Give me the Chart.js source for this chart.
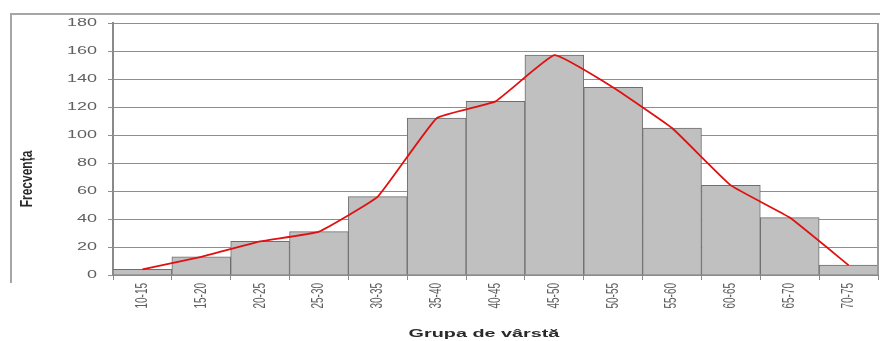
<!DOCTYPE html>
<html>
<head>
<meta charset="utf-8">
<script src="https://cdn.jsdelivr.net/npm/chart.js@4/dist/chart.umd.min.js"></script>
<style>
  html, body { margin: 0; padding: 0; background: #fff; }
  #wrap { position: relative; width: 880px; height: 341px; }
</style>
</head>
<body>
<div id="wrap"><canvas id="c" width="880" height="341"></canvas></div>
<script>
// Age groups (years) and how many people fall in each
const ageGroups = ['10-15', '15-20', '20-25', '25-30', '30-35', '35-40', '40-45',
                   '45-50', '50-55', '55-60', '60-65', '65-70', '70-75'];
const frequencies = [4, 13, 24, 31, 56, 112, 124, 157, 134, 105, 64, 41, 7];
// Frequency polygon drawn over the histogram
const polygon = [4, 13, 24, 31, 56, 112, 124, 157, 134, 105, 64, 41, 7];
const yTickValues = [0, 20, 40, 60, 80, 100, 120, 140, 160, 180];

const xTitle = 'Grupa de vârstă';
const yTitle = 'Frecvența';

const FONT = '"Liberation Sans", Arial, sans-serif';

// Lettering is wide and flat, so each label is stretched horizontally
function stretchedText(ctx, text, x, y, opts) {
  ctx.save();
  ctx.translate(x, y);
  ctx.scale(opts.stretch || 1.8, 1);
  if (opts.rotate) ctx.rotate(opts.rotate);
  ctx.font = opts.font;
  ctx.fillStyle = opts.color;
  ctx.textAlign = opts.align || 'center';
  ctx.textBaseline = opts.baseline || 'middle';
  ctx.fillText(text, 0, 0);
  ctx.restore();
}

// Outer frame, plot border and all lettering
const decorations = {
  id: 'decorations',
  beforeDraw(chart) {
    const ctx = chart.ctx;
    ctx.save();
    ctx.strokeStyle = '#a6a6a6';
    ctx.lineWidth = 2;
    ctx.beginPath();
    ctx.moveTo(10, 14);
    ctx.lineTo(880, 14);
    ctx.moveTo(11, 14);
    ctx.lineTo(11, 283);
    ctx.stroke();
    ctx.restore();
  },
  afterDraw(chart) {
    const ctx = chart.ctx;
    const area = chart.chartArea;
    const xs = chart.scales.x, ys = chart.scales.y;

    // right edge of plot area
    ctx.save();
    ctx.strokeStyle = '#9a9a9a';
    ctx.lineWidth = 2;
    ctx.beginPath();
    ctx.moveTo(area.right, area.top);
    ctx.lineTo(area.right, area.bottom);
    ctx.stroke();
    ctx.restore();

    // y tick labels
    yTickValues.forEach(v => {
      stretchedText(ctx, String(v), area.left - 16, ys.getPixelForValue(v), {
        font: '10px ' + FONT, color: '#606060', align: 'right'
      });
    });

    // x tick labels, reading upward
    ageGroups.forEach((g, i) => {
      stretchedText(ctx, g, xs.getPixelForValue(i), area.bottom + 8, {
        font: '10px ' + FONT, color: '#606060', align: 'right',
        rotate: -Math.PI / 2, stretch: 1.6
      });
    });

    // axis titles
    stretchedText(ctx, xTitle, 484, 334, {
      font: 'bold 11px ' + FONT, color: '#2a2a2a'
    });
    stretchedText(ctx, yTitle, 27, 179, {
      font: 'bold 12px ' + FONT, color: '#2a2a2a', rotate: -Math.PI / 2, stretch: 1.4
    });
  }
};

new Chart(document.getElementById('c'), {
  data: {
    labels: ageGroups,
    datasets: [
      {
        type: 'line',
        data: polygon,
        borderColor: '#e01010',
        borderWidth: 1.8,
        pointRadius: 0,
        tension: 0.1,
        fill: false,
        order: 0
      },
      {
        type: 'bar',
        data: frequencies,
        backgroundColor: '#c0c0c0',
        borderColor: '#6e6e6e',
        borderWidth: 1,
        barPercentage: 1,
        categoryPercentage: 1,
        order: 1
      }
    ]
  },
  options: {
    responsive: false,
    animation: false,
    devicePixelRatio: 1,
    layout: { padding: { top: 23, right: 2, left: 0, bottom: 0 } },
    plugins: { legend: { display: false }, tooltip: { enabled: false } },
    scales: {
      x: {
        offset: true,
        grid: {
          offset: true,
          drawOnChartArea: false,
          color: '#8a8a8a',
          tickLength: 5
        },
        border: { color: '#8a8a8a', width: 2 },
        ticks: { color: 'rgba(0,0,0,0)', font: { size: 9 }, maxRotation: 90, minRotation: 90 },
        afterFit(scale) { scale.height = 66; }
      },
      y: {
        min: 0,
        max: 180,
        afterBuildTicks(scale) { scale.ticks = yTickValues.map(v => ({ value: v })); },
        grid: { color: '#8e8e8e', lineWidth: 1, tickLength: 5 },
        border: { color: '#8a8a8a', width: 2 },
        ticks: { color: 'rgba(0,0,0,0)', font: { size: 9 } },
        afterFit(scale) { scale.width = 113; }
      }
    }
  },
  plugins: [decorations]
});
</script>
</body>
</html>
